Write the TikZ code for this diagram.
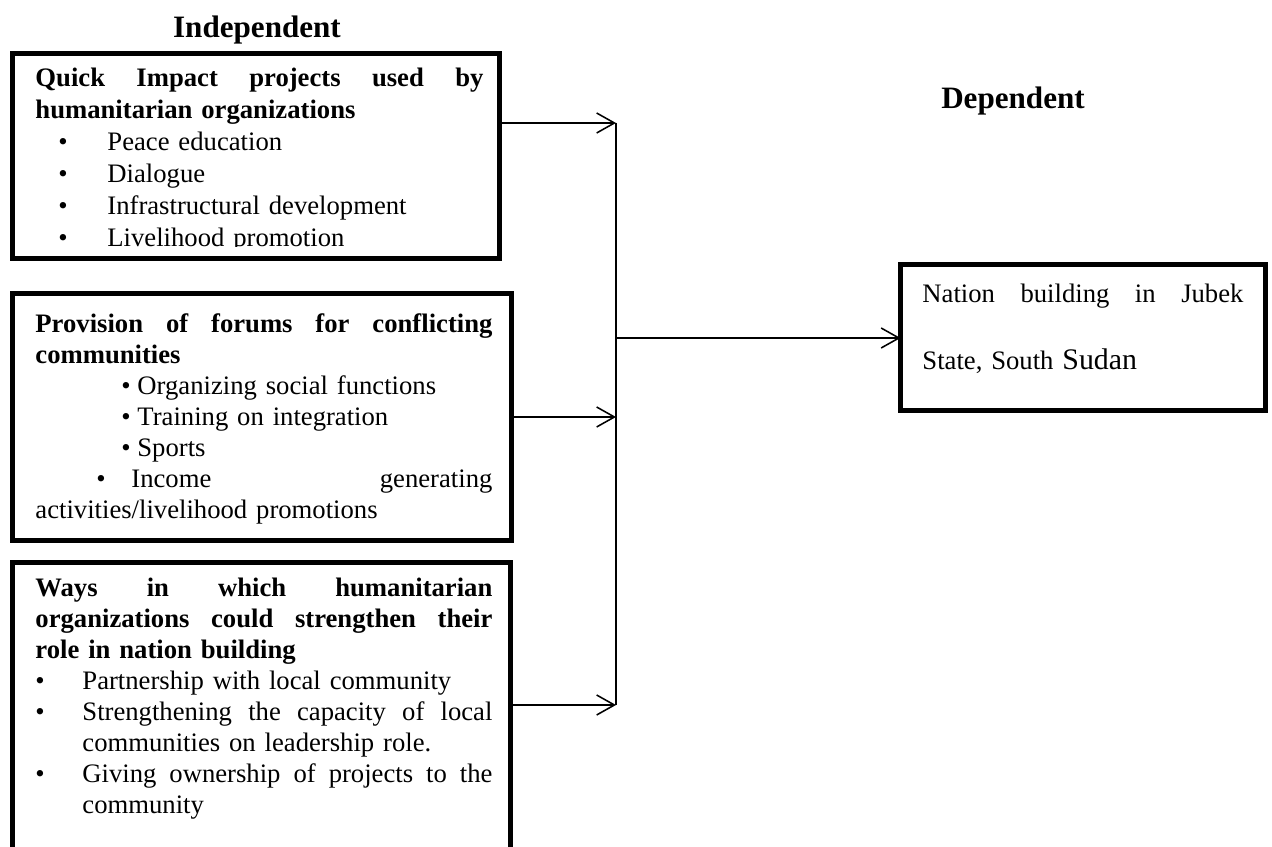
\documentclass[tikz,border=0pt]{standalone}
\usepackage{fontspec}
\setmainfont{Liberation Serif}
\newfontfamily\sudanfont[Scale=1.12]{Liberation Serif}
\usetikzlibrary{arrows.meta}
\newlength\pxl
\setlength\pxl{0.45pt}
\newcommand\jbox[2]{\makebox[#1][s]{\spaceskip=.25em plus 1fil\xspaceskip=.25em plus 1fil\relax #2}}
\begin{document}
\begin{tikzpicture}[x=0.45pt,y=-0.45pt,
  box/.style={draw, line width=2.25pt, inner sep=0pt, outer sep=0pt},
  txt/.style={anchor=base west, inner sep=0pt, align=left, font=\fontsize{12}{14.4}\selectfont},
  head/.style={inner sep=0pt, font=\bfseries\fontsize{14}{16}\selectfont},
  conn/.style={line width=0.7pt},
  arr/.style={conn, -{Straight Barb[length=8pt,width=9pt]}}]
\useasboundingbox (0,0) rectangle (1272,847);
\clip (0,0) rectangle (1272,847);

% headings
\node[head] (hind) at (257,30) {Independent};
\node[head] (hdep) at (1013,101) {Dependent};

% boxes
\node[box, minimum width={487*0.45pt}, minimum height={205*0.45pt}] (b1) at (256,156) {};
\node[box, minimum width={499*0.45pt}, minimum height={247*0.45pt}] (b2) at (262,417) {};
\node[box, minimum width={498*0.45pt}, minimum height={360*0.45pt}] (b3) at (261.5,742.5) {};
\node[box, minimum width={365*0.45pt}, minimum height={146*0.45pt}] (b4) at (1083,337.5) {};

% box 1 text
\begin{scope}
\clip (15,56) rectangle (497,247);
\node[txt, text width={448*0.45pt}] (t1) at (35,87) {%
\jbox{\linewidth}{\bfseries Quick Impact projects used by}\\
\textbf{humanitarian organizations}\\
\hspace*{23\pxl}\makebox[49\pxl][l]{\textbullet}Peace education\\
\hspace*{23\pxl}\makebox[49\pxl][l]{\textbullet}Dialogue\\
\hspace*{23\pxl}\makebox[49\pxl][l]{\textbullet}Infrastructural development\\
\hspace*{23\pxl}\makebox[49\pxl][l]{\textbullet}Livelihood promotion};
\end{scope}

% box 2 text
\node[txt, text width={457*0.45pt}, font=\fontsize{12}{13.9}\selectfont] (t2) at (35,333) {%
\jbox{\linewidth}{\bfseries Provision of forums for conflicting}\\
\textbf{communities}\\
\hspace*{86\pxl}\makebox[16\pxl][l]{\textbullet}Organizing social functions\\
\hspace*{86\pxl}\makebox[16\pxl][l]{\textbullet}Training on integration\\
\hspace*{86\pxl}\makebox[16\pxl][l]{\textbullet}Sports\\
\hspace*{61\pxl}\makebox[35\pxl][l]{\textbullet}\jbox{361\pxl}{Income generating}\\
activities/livelihood promotions};

% box 3 text
\node[txt, text width={457*0.45pt}, font=\fontsize{12}{13.9}\selectfont] (t3) at (35,597) {%
\jbox{\linewidth}{\bfseries Ways in which humanitarian}\\
\jbox{\linewidth}{\bfseries organizations could strengthen their}\\
\textbf{role in nation building}\\
\makebox[47\pxl][l]{\textbullet}Partnership with local community\\
\makebox[47\pxl][l]{\textbullet}\jbox{410\pxl}{Strengthening the capacity of local}\\
\hspace*{47\pxl}communities on leadership role.\\
\makebox[47\pxl][l]{\textbullet}\jbox{410\pxl}{Giving ownership of projects to the}\\
\hspace*{47\pxl}community};

% box 4 text
\node[txt, text width={321*0.45pt}, font=\fontsize{12}{30.15}\selectfont] (t4) at (922,303) {%
\jbox{\linewidth}{Nation building in Jubek}\\
State, South {\sudanfont Sudan}};

% connectors
\coordinate (j1) at (616,123);
\coordinate (jm) at (616,338);
\coordinate (j2) at (616,417);
\coordinate (j3) at (616,705);
\draw[conn] (j1) -- (j3);
\draw[arr] (b1.east |- j1) -- (j1);
\draw[arr] (b2.east |- j2) -- (j2);
\draw[arr] (b3.east |- j3) -- (j3);
\draw[arr] (jm) -- (b4.west |- jm);
\end{tikzpicture}
\end{document}
